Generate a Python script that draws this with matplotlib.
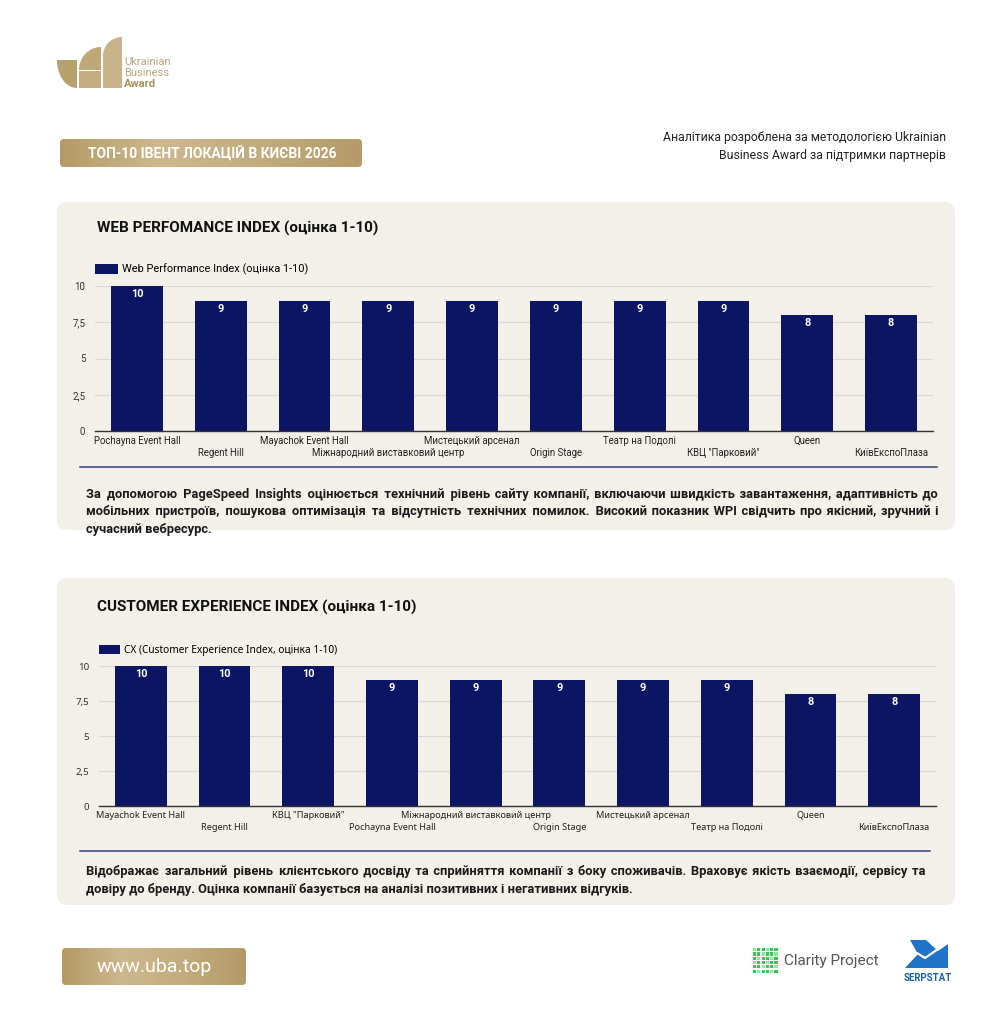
import numpy as np
import matplotlib
matplotlib.use("Agg")
from matplotlib import pyplot as plt
from matplotlib.patches import FancyBboxPatch, Polygon, Rectangle
from matplotlib.colors import LinearSegmentedColormap

W, H = 1004, 1024

# data
wpi_venues = ["Pochayna Event Hall", "Regent Hill", "Mayachok Event Hall",
              "Міжнародний виставковий центр", "Мистецький арсенал", "Origin Stage",
              "Театр на Подолі", 'КВЦ "Парковий"', "Queen", "КиївЕкспоПлаза"]
wpi_scores = [10, 9, 9, 9, 9, 9, 9, 9, 8, 8]

cx_venues = ["Mayachok Event Hall", "Regent Hill", 'КВЦ "Парковий"',
             "Pochayna Event Hall", "Міжнародний виставковий центр", "Origin Stage",
             "Мистецький арсенал", "Театр на Подолі", "Queen", "КиївЕкспоПлаза"]
cx_scores = [10, 10, 10, 9, 9, 9, 9, 9, 8, 8]

y_ticks = [0, 2.5, 5, 7.5, 10]
y_tick_labels = ["0", "2,5", "5", "7,5", "10"]

wpi_legend = "Web Performance Index (оцінка 1-10)"
cx_legend = "CX (Customer Experience Index, оцінка 1-10)"

wpi_text = [
    "За допомогою PageSpeed Insights оцінюється технічний рівень сайту компанії, включаючи швидкість завантаження, адаптивність до",
    "мобільних пристроїв, пошукова оптимізація та відсутність технічних помилок. Високий показник WPI свідчить про якісний, зручний і",
    "сучасний вебресурс.",
]
cx_text = [
    "Відображає загальний рівень клієнтського досвіду та сприйняття компанії з боку споживачів. Враховує якість взаємодії, сервісу та",
    "довіру до бренду. Оцінка компанії базується на аналізі позитивних і негативних відгуків.",
]

NAVY = "#0b1563"
PANEL = "#f3f0e9"
gold_cmap = LinearSegmentedColormap.from_list("gold", ["#b49a66", "#cdb88e", "#c2ab7d", "#b39a68"])

fig = plt.figure(figsize=(W / 100, H / 100), dpi=100)
fig.patch.set_facecolor("white")
bg = fig.add_axes([0, 0, 1, 1])
bg.set_xlim(0, W)
bg.set_ylim(H, 0)
bg.axis("off")


def px_axes(x0, y0, x1, y1):
    return fig.add_axes([x0 / W, 1 - y1 / H, (x1 - x0) / W, (y1 - y0) / H])


def gold_box(x0, y0, x1, y1, r=4):
    box = FancyBboxPatch((x0, y0), x1 - x0, y1 - y0,
                         boxstyle="round,pad=0,rounding_size=%d" % r,
                         facecolor="none", edgecolor="none", zorder=2)
    bg.add_patch(box)
    grad = np.linspace(0, 1, 256).reshape(1, -1)
    im = bg.imshow(grad, extent=(x0, x1, y1, y0), cmap=gold_cmap, aspect="auto", zorder=2)
    im.set_clip_path(box)


# panels
for (y0, y1) in [(202, 530), (578, 905)]:
    bg.add_patch(FancyBboxPatch((57, y0), 898, y1 - y0,
                                boxstyle="round,pad=0,rounding_size=10",
                                facecolor=PANEL, edgecolor="none", zorder=1))

# header gold bar + link bar
gold_box(60, 139, 362, 167)
bg.text(212, 154, "ТОП-10 ІВЕНТ ЛОКАЦІЙ В КИЄВІ 2026", ha="center", va="center",
        color="white", fontsize=10, fontweight="bold", family="Roboto", zorder=3)
gold_box(62, 948, 246, 985)
bg.text(154, 967, "www.uba.top", ha="center", va="center", color="white",
        fontsize=14, family="Roboto", zorder=3)

# logo (Ukrainian Business Award)
t = np.linspace(np.pi / 2, np.pi, 30)
bg.add_patch(Polygon(np.column_stack([[77] + list(77 + 20 * np.cos(t)) + [57],
                                      [60] + list(60 + 28 * np.sin(t)) + [60]]),
                     closed=True, facecolor="#b8a06c", edgecolor="none", zorder=2))
bg.add_patch(Rectangle((79, 71), 22, 17, facecolor="#c4ad80", edgecolor="none", zorder=2))
t2 = np.linspace(np.pi, 1.5 * np.pi, 30)
bg.add_patch(Polygon(np.column_stack([[101] + list(101 + 22 * np.cos(t2)) + [101],
                                      [70] + list(70 + 23 * np.sin(t2)) + [70]]),
                     closed=True, facecolor="#bfa777", edgecolor="none", zorder=2))
bg.add_patch(Polygon(np.column_stack([[122, 103] + list(122 + 19 * np.cos(t2)),
                                      [88, 88] + list(56 + 19 * np.sin(t2))]),
                     closed=True, facecolor="#c9b48a", edgecolor="none", zorder=2))
bg.add_patch(Rectangle((103, 56), 19, 32, facecolor="#c9b48a", edgecolor="none", zorder=2))
bg.text(124, 62, "Ukrainian", color="#b8a57c", fontsize=8, va="center", family="Roboto")
bg.text(124, 73, "Business", color="#b8a57c", fontsize=8, va="center", family="Roboto")
bg.text(124, 84, "Award", color="#a88f5c", fontsize=8, va="center", family="Roboto",
        fontweight="bold")

# right header text
bg.text(946, 137, "Аналітика розроблена за методологією Ukrainian", ha="right", va="center",
        fontsize=8.8, color="#222222", family="Roboto")
bg.text(946, 155, "Business Award за підтримки партнерів", ha="right", va="center",
        fontsize=8.8, color="#222222", family="Roboto")

# panel titles
bg.text(97, 228, "WEB PERFOMANCE INDEX (оцінка 1-10)", va="center", fontsize=11,
        fontweight="bold", color="#111111", family="Roboto")
bg.text(97, 607, "CUSTOMER EXPERIENCE INDEX (оцінка 1-10)", va="center", fontsize=11,
        fontweight="bold", color="#111111", family="Roboto")

# divider lines
bg.plot([80, 937], [467, 467], color="#34427f", lw=1.1)
bg.plot([80, 930], [851, 851], color="#34427f", lw=1.1)


def bar_chart(box, venues, scores, legend_label, family, legend_y, tick_fs, leg_fs):
    ax = px_axes(*box)
    ax.set_facecolor("none")
    x = np.arange(len(venues))
    bars = ax.bar(x, scores, width=0.62, color=NAVY, label=legend_label, zorder=3)
    for b, s in zip(bars, scores):
        ax.annotate(str(s), (b.get_x() + b.get_width() / 2, s), xytext=(0, -2.5),
                    textcoords="offset points", ha="center", va="top", color="white",
                    fontsize=7.8, fontweight="bold", family="Roboto", zorder=4)
    ax.set_xlim(-0.5, len(venues) - 0.5)
    ax.set_ylim(0, 10)
    ax.set_yticks(y_ticks)
    ax.set_yticklabels(y_tick_labels, fontsize=7, color="#333333", family=family)
    ax.set_xticks(x)
    ax.set_xticklabels(venues, fontsize=tick_fs, color="#222222", family=family)
    ax.tick_params(length=0)
    ax.tick_params(axis="y", pad=7)
    for i, tk in enumerate(ax.xaxis.get_major_ticks()):
        tk.set_pad(3.5 if i % 2 == 0 else 12.5)
    ax.grid(axis="y", color="#d9d7d2", lw=0.8, zorder=0)
    for s in ["top", "right", "left"]:
        ax.spines[s].set_visible(False)
    ax.spines["bottom"].set_color("#333333")
    ax.spines["bottom"].set_linewidth(1.0)
    ax.spines["bottom"].set_zorder(5)
    ax.legend(loc="lower left", bbox_to_anchor=(0, legend_y), frameon=False,
              borderpad=0, borderaxespad=0, handlelength=2.1, handleheight=1.0,
              handletextpad=0.35, prop={"family": family, "size": leg_fs})
    return ax


bar_chart((95, 286, 933, 431), wpi_venues, wpi_scores, wpi_legend, "Roboto", 1.075, 6.9, 7.9)
bar_chart((99, 666, 936, 806), cx_venues, cx_scores, cx_legend, "Noto Sans", 1.07, 6.6, 7.3)

# justified description text: pad word gaps with hair spaces in one text per line
renderer = fig.canvas.get_renderer()
DESC_KW = dict(va="baseline", fontsize=9.3, fontweight="bold", color="#1a1a1a",
               family=["Roboto", "DejaVu Sans"])
HAIR = "\u200a"


def text_width(s):
    tt = bg.text(0, 0, s, **DESC_KW)
    wd = tt.get_window_extent(renderer).width
    tt.remove()
    return wd


hair_w = (text_width("a" + HAIR * 20 + "a") - text_width("aa")) / 20


def justified(lines, x0, x1, y0, dy):
    for k, line in enumerate(lines):
        y = y0 + k * dy
        if k == len(lines) - 1:
            bg.text(x0, y, line, **DESC_KW)
            continue
        words = line.split()
        gaps = len(words) - 1
        extra = max(0, int(round((x1 - x0 - text_width(line)) / hair_w)))
        out = words[0]
        for i, w_ in enumerate(words[1:]):
            n = extra // gaps + (1 if i < extra % gaps else 0)
            out += " " + HAIR * n + w_
        bg.text(x0, y, out, **DESC_KW)


justified(wpi_text, 86, 938, 498, 17.5)
justified(cx_text, 86, 925, 875, 17.5)

# partner logos
for i in range(6):
    for j in range(6):
        bg.add_patch(Rectangle((753 + i * 4.3, 948 + j * 4.3), 3.2, 3.2,
                               facecolor="#2ecc55" if (i + j) % 3 else "#8be89c",
                               edgecolor="none"))
bg.text(784, 961, "Clarity Project", va="center", fontsize=11, color="#555555",
        family="Roboto")
bg.add_patch(Polygon([[910, 940], [926, 940], [938, 951], [948, 944], [948, 968],
                      [905, 968], [918, 954]],
                     closed=True, facecolor="#1f73c8", edgecolor="none"))
bg.plot([907, 917, 925, 941], [963, 953, 958, 947], color="white", lw=1.6)
bg.text(928, 978, "SERPSTAT", ha="center", va="center", fontsize=6.9, color="#1a5fa8",
        fontweight="bold", family="Roboto")

fig.savefig("out.png", dpi=100)
